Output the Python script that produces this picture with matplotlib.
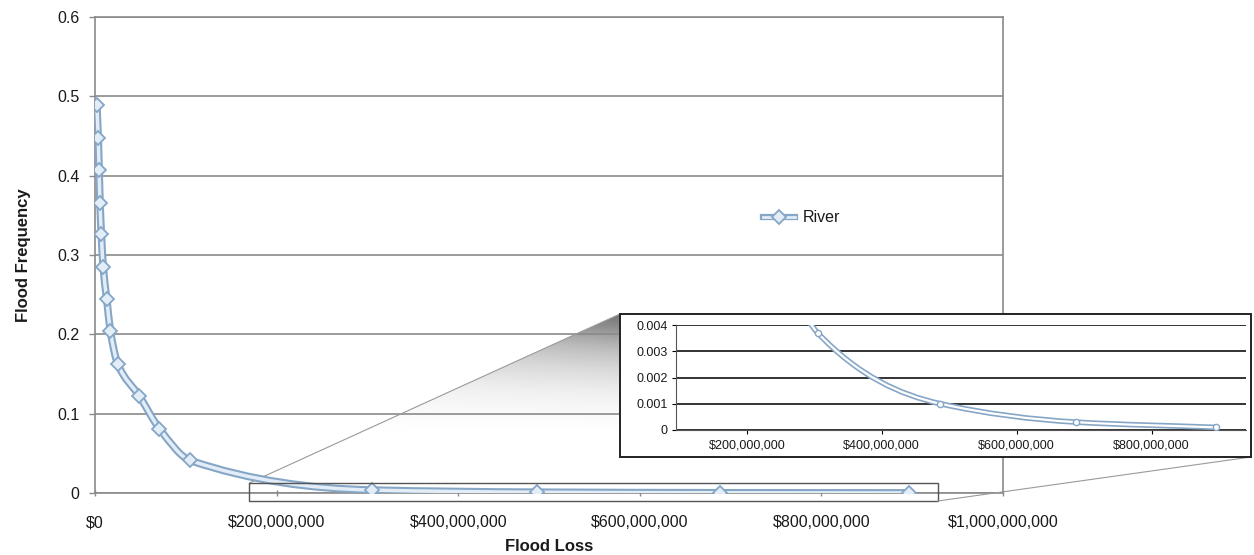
import matplotlib
matplotlib.use("Agg")
import matplotlib.pyplot as plt
import matplotlib.patheffects as pe
import numpy as np
from matplotlib.path import Path
from matplotlib.patches import PathPatch, Rectangle, Polygon
from matplotlib.lines import Line2D
from matplotlib.legend_handler import HandlerTuple
from matplotlib.ticker import FuncFormatter

plt.rcParams['font.family'] = ['Liberation Sans', 'DejaVu Sans']

# flood loss ($) vs annual frequency for the river reach
loss = [2e6, 3.5e6, 4.5e6, 5.5e6, 7e6, 9e6, 13e6, 17e6, 25e6, 49e6, 71e6, 105e6,
        305e6, 487e6, 688e6, 896e6]
freq = [0.489, 0.448, 0.407, 0.366, 0.326, 0.285, 0.244, 0.204, 0.163, 0.122,
        0.081, 0.041, 0.0037, 0.001, 0.0003, 0.0001]
series_name = 'River'

main_yticks = [0, 0.1, 0.2, 0.3, 0.4, 0.5, 0.6]
main_xticks = [0, 200e6, 400e6, 600e6, 800e6, 1000e6]
inset_yticks = [0, 0.001, 0.002, 0.003, 0.004]
inset_xticks = [200e6, 400e6, 600e6, 800e6]
zoom_x = (170e6, 928e6)
zoom_y = (-0.0101, 0.0126)

EDGE = '#86a6c6'
FILL = '#e2edf8'
GRID = '#8a8a8a'
TEXT = '#1a1a1a'


def smooth_path(x, y):
    """Monotone cubic (Fritsch-Carlson) through the points, as bezier segments."""
    x = np.asarray(x, float)
    y = np.asarray(y, float)
    h = np.diff(x)
    d = np.diff(y) / h
    m = np.zeros_like(y)
    m[0], m[-1] = d[0], d[-1]
    for i in range(1, len(y) - 1):
        if d[i - 1] * d[i] > 0:
            w1 = 2 * h[i] + h[i - 1]
            w2 = h[i] + 2 * h[i - 1]
            m[i] = (w1 + w2) / (w1 / d[i - 1] + w2 / d[i])
    verts = [(x[0], y[0])]
    codes = [Path.MOVETO]
    for i in range(len(x) - 1):
        verts += [(x[i] + h[i] / 3, y[i] + m[i] * h[i] / 3),
                  (x[i + 1] - h[i] / 3, y[i + 1] - m[i + 1] * h[i] / 3),
                  (x[i + 1], y[i + 1])]
        codes += [Path.CURVE4] * 3
    return Path(verts, codes)


money = FuncFormatter(lambda v, pos: '${:,.0f}'.format(v))

fig = plt.figure(figsize=(12.54, 5.55), dpi=100)
ax = fig.add_axes([95 / 1254, 62 / 555, 908 / 1254, 476 / 555])
ax.set_xlim(0, 1e9)
ax.set_ylim(0, 0.6)
ax.set_yticks(main_yticks)
ax.set_yticklabels(['0' if t == 0 else '{:g}'.format(t) for t in main_yticks])
ax.set_xticks(main_xticks)
ax.xaxis.set_major_formatter(money)
ax.grid(axis='y', color=GRID, lw=1.2)
for s in ax.spines.values():
    s.set_color(GRID)
    s.set_linewidth(1.2)
ax.tick_params(labelsize=11.5, labelcolor=TEXT, length=4, width=1, pad=7)
ax.tick_params(axis='x', direction='inout', color=GRID, pad=14)
ax.tick_params(axis='y', color=GRID)
ax.set_ylabel('Flood Frequency', fontsize=12, fontweight='bold', labelpad=19,
              color=TEXT)
ax.set_xlabel('Flood Loss', fontsize=12, fontweight='bold', labelpad=6,
              color=TEXT)

line_fx = [pe.Stroke(linewidth=5.5, foreground=EDGE), pe.Normal()]
curve = PathPatch(smooth_path(loss, freq), fill=False, edgecolor=FILL, lw=2.5,
                  zorder=3, path_effects=line_fx)
ax.add_patch(curve)
ax.plot(loss, freq, linestyle='none', marker='D', ms=7, mfc=FILL, mec=EDGE,
        mew=1.3, zorder=4)

line_proxy = Line2D([], [], color=FILL, lw=2, path_effects=[
    pe.Stroke(linewidth=4.5, foreground=EDGE), pe.Normal()])
mark_proxy = Line2D([], [], linestyle='none', marker='D', ms=7, mfc=FILL,
                    mec=EDGE, mew=1.3)
ax.legend([(line_proxy, mark_proxy)], [series_name], loc='center left',
          frameon=False, fontsize=11.5, bbox_to_anchor=(0.72, 0.578),
          handlelength=2.0, handletextpad=0.5, labelcolor=TEXT,
          handler_map={tuple: HandlerTuple(ndivide=1)})

# zoom box around the tail of the curve
ax.add_patch(Rectangle((zoom_x[0], zoom_y[0]), zoom_x[1] - zoom_x[0],
                       zoom_y[1] - zoom_y[0], fill=False, ec='#555555', lw=1,
                       clip_on=False, zorder=5))

# inset frame (figure fraction)
box_l, box_r, box_b, box_t = 620 / 1254, 1251 / 1254, 1 - 457 / 555, 1 - 314 / 555

to_data = ax.transData.inverted()
def fig2data(fx, fy):
    return to_data.transform(fig.transFigure.transform((fx, fy)))

# shaded wedge from the zoom box to the inset
tl = np.array([zoom_x[0], zoom_y[1]])
itl = fig2data(box_l, box_t)
ibl = fig2data(box_l, box_b)
grad_rows = np.linspace(0, 1, 200)[:, None]
grad_cols = np.linspace(0, 1, 200)[None, :]
shade = np.clip((grad_rows - 0.15) / 0.85, 0, 1) ** 1.5 * (0.6 + 0.4 * grad_cols)
img = ax.imshow(shade, cmap='Greys', vmin=0, vmax=1.6, origin='lower',
                extent=[tl[0], itl[0], ibl[1], itl[1]], aspect='auto',
                interpolation='bilinear', zorder=0.5)
wedge = Polygon([tl, itl, ibl], closed=True, transform=ax.transData)
img.set_clip_path(wedge)
ax.plot([tl[0], itl[0]], [tl[1], itl[1]], color='#9a9a9a', lw=0.8, zorder=2)
ax.set_xlim(0, 1e9)
ax.set_ylim(0, 0.6)

br = np.array([zoom_x[1], zoom_y[0]])
fbr = fig.transFigure.inverted().transform(ax.transData.transform(br))
fig.add_artist(Line2D([fbr[0], box_r], [fbr[1], box_b], color='#9a9a9a', lw=0.8))

fig.add_artist(Rectangle((box_l, box_b), box_r - box_l, box_t - box_b,
                         transform=fig.transFigure, fc='white', ec='#222222',
                         lw=1.4, zorder=6))

# inset axes with the low-frequency tail
axin = fig.add_axes([676 / 1254, 125 / 555, 570 / 1254, 105 / 555], zorder=7)
axin.set_xlim(95e6, 940e6)
axin.set_ylim(0, 0.004)
axin.set_yticks(inset_yticks)
axin.set_yticklabels(['0' if t == 0 else '{:g}'.format(t) for t in inset_yticks])
axin.set_xticks(inset_xticks)
axin.xaxis.set_major_formatter(money)
axin.grid(axis='y', color='#333333', lw=1.4)
for k, s in axin.spines.items():
    s.set_visible(k in ('left', 'bottom'))
    s.set_color('#555555')
axin.tick_params(labelsize=9, labelcolor=TEXT, length=3, pad=3)
axin.tick_params(axis='x', pad=4)
axin.add_patch(PathPatch(smooth_path(loss, freq), fill=False, edgecolor='white',
                         lw=1.6, zorder=3,
                         path_effects=[pe.Stroke(linewidth=4, foreground=EDGE),
                                       pe.Normal()]))
axin.plot(loss, freq, linestyle='none', marker='o', ms=4.5, mfc='white',
          mec=EDGE, mew=1, zorder=4)

fig.savefig('out.png', dpi=100)
